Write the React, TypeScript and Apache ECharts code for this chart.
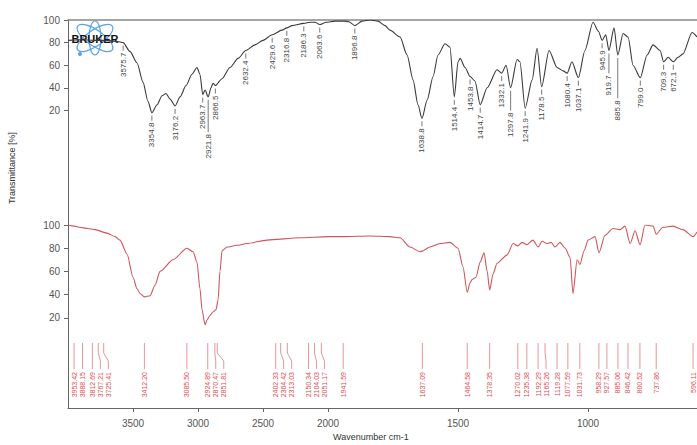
import React, { useEffect, useRef } from 'react';
import * as echarts from 'echarts';

// ---------- data ----------
const xTickWavenumbers = [3500, 3000, 2500, 2000, 1500, 1000];
const yTicks = [20, 40, 60, 80, 100];

const blackWn = [4000, 3900, 3800, 3700, 3620, 3575.7, 3523, 3469, 3423, 3385, 3354.8, 3315, 3277, 3246, 3215, 3176.2, 3138, 3092, 3046, 3008, 2985, 2963.7, 2946, 2921.8, 2900, 2885, 2866.5, 2815, 2754, 2692, 2632.4, 2562, 2500, 2429.6, 2354, 2316.8, 2277, 2186.3, 2138, 2100, 2063.6, 2015, 1973, 1935, 1920, 1896.8, 1869, 1838, 1808, 1781, 1762, 1723, 1696, 1673, 1654, 1638.8, 1619, 1596, 1577, 1550, 1531, 1514.4, 1500, 1492, 1473, 1453.8, 1435, 1414.7, 1388, 1350, 1332.1, 1315, 1297.8, 1273, 1262, 1241.9, 1215, 1196, 1178.5, 1150, 1119, 1096, 1080.4, 1062, 1037.1, 1012, 981, 960, 945.9, 932, 919.7, 900, 885.8, 865, 846, 827, 799, 773, 750, 723, 709.3, 692, 672.1, 654, 635, 600, 581];
const blackT = [82, 82.5, 82, 82, 81, 80, 72, 62, 45, 28, 18, 25, 33, 35, 30, 24, 32, 42, 52, 58, 52, 34, 38, 32, 40, 44, 42, 48, 58, 66, 73, 78, 82, 87, 91, 93, 95, 97, 98, 98, 96, 98, 99, 99, 98.5, 95, 99, 100, 99, 95, 91, 85, 69, 47, 25, 13, 29, 50, 69, 79, 76, 32, 63, 66, 58, 50, 46, 25, 40, 56, 53, 60, 40, 65, 63, 22, 47, 75, 41, 73, 58, 55, 53, 63, 49, 73, 98, 90, 82, 87, 73, 93, 69, 88, 85, 60, 49, 69, 78, 73, 63, 67, 63, 67, 70, 89, 85];

const redWn = [4000, 3950, 3908, 3850, 3792, 3700, 3638, 3600, 3546, 3500, 3469, 3446, 3412.2, 3369, 3331, 3292, 3192, 3085.5, 3038, 3008, 2985, 2969, 2946, 2931, 2908, 2885, 2862, 2846, 2831, 2815, 2777, 2700, 2623, 2469, 2215, 2000, 1941.6, 1838, 1762, 1723, 1685, 1646, 1637, 1608, 1569, 1531, 1500, 1481, 1464.6, 1454, 1446, 1431, 1415, 1400, 1388, 1378.4, 1365, 1350, 1312, 1288, 1270, 1254, 1235, 1212, 1192, 1177, 1158, 1142, 1127, 1108, 1088, 1069, 1058, 1042, 1031, 1015, 1000, 973, 958, 935, 904, 877, 858, 838, 819, 800, 781, 750, 737.9, 712, 673, 635, 596, 581];
const redT = [100, 99, 98, 97, 96, 93, 90, 87, 75, 55, 45, 41, 38, 39, 48, 60, 70, 80, 77, 68, 45, 27, 14, 18, 22, 25, 27, 35, 60, 78, 81, 82.5, 84, 87, 89, 90, 90, 90.5, 90, 89, 81, 77, 77.5, 81, 84, 85, 80, 64, 42, 50, 53, 55, 68, 76, 60, 44, 58, 67, 74, 84, 82, 85, 83, 87, 81, 86, 84, 85, 81, 85, 80, 72, 41, 70, 66, 78, 87, 90, 76, 91, 97, 96, 99, 84, 95, 83, 100, 99, 92, 98, 99, 96, 90, 94];

const blackPeakLabels = ['3575.7', '3354.8', '3176.2', '2963.7', '2921.8', '2866.5', '2632.4', '2429.6', '2316.8', '2186.3', '2063.6', '1896.8', '1638.8', '1514.4', '1453.8', '1414.7', '1332.1', '1297.8', '1241.9', '1178.5', '1080.4', '1037.1', '945.9', '919.7', '885.8', '799.0', '709.3', '672.1'];
const redPeakLabels = ['3953.42', '3888.15', '3812.69', '3767.21', '3725.41', '3412.20', '3085.50', '2924.89', '2870.47', '2851.81', '2402.33', '2364.42', '2313.03', '2150.34', '2104.03', '2051.17', '1941.59', '1637.09', '1464.58', '1378.35', '1270.02', '1235.38', '1192.29', '1165.26', '1119.28', '1077.59', '1031.73', '958.29', '927.57', '885.06', '846.42', '800.52', '737.86', '596.11'];

const X_MIN_WN = 581;
const X_MAX_WN = 4000;

// ---------- helpers ----------
const BREAK = 2000;
const toU = (w: number) => (w <= BREAK ? w : BREAK + (w - BREAK) / 2);
const fromU = (u: number) => (u <= BREAK ? u : BREAK + (u - BREAK) * 2);

function interp(wn: number, ws: number[], ts: number[]) {
  for (let i = 0; i < ws.length - 1; i++) {
    const a = ws[i], b = ws[i + 1];
    if (wn <= a && wn >= b) {
      const t = a === b ? 0 : (a - wn) / (a - b);
      return ts[i] + (ts[i + 1] - ts[i]) * t;
    }
  }
  return ts[ts.length - 1];
}

const FONT = '"Liberation Sans", Arial, sans-serif';
const textLen = (s: string, fs: number) => {
  let n = 0;
  for (const c of s) n += c === '.' ? 0.278 : 0.556;
  return n * fs;
};

export default function App() {
  const ref = useRef<HTMLDivElement>(null);

  useEffect(() => {
    if (!ref.current) return;
    const chart = echarts.init(ref.current, undefined, { renderer: 'svg' });

    const blackData = blackWn.map((w, i) => [toU(w), blackT[i]]);
    const redData = redWn.map((w, i) => [toU(w), redT[i]]);
    const blackLabelData = blackPeakLabels.map((s) => {
      const w = parseFloat(s);
      return [toU(w), interp(w, blackWn, blackT)];
    });
    const redLabelData = redPeakLabels.map((s) => [toU(parseFloat(s)), 0]);

    const BFS = 8;
    const RFS = 7;

    const blackRender = (params: any, api: any) => {
      const placed: { x: number; y: number; ts: number; len: number }[] = [];
      for (let i = 0; i < blackLabelData.length; i++) {
        const [x, y] = api.coord(blackLabelData[i]);
        const len = textLen(blackPeakLabels[i], BFS);
        let ts = y + 10;
        let moved = true;
        let guard = 0;
        while (moved && guard < 20) {
          moved = false;
          guard++;
          for (const p of placed) {
            if (Math.abs(p.x - x) < BFS + 1 && ts < p.ts + p.len + 3 && ts + len > p.ts - 3) {
              ts = p.ts + p.len + 5;
              moved = true;
            }
          }
        }
        placed.push({ x, y, ts, len });
      }
      const p = placed[params.dataIndex];
      const lineEnd = p.ts - p.y > 12 ? p.ts - 2 : p.y + 8;
      return {
        type: 'group',
        children: [
          {
            type: 'line',
            shape: { x1: p.x, y1: p.y + 3, x2: p.x, y2: lineEnd },
            style: { stroke: '#555', lineWidth: 0.8 },
          },
          {
            type: 'text',
            x: p.x,
            y: p.ts,
            rotation: Math.PI / 2,
            style: {
              text: blackPeakLabels[params.dataIndex],
              fill: '#444',
              font: `${BFS}px ${FONT}`,
              align: 'right',
              verticalAlign: 'middle',
            },
          },
        ],
      };
    };

    const redRender = (params: any, api: any) => {
      const xs: number[] = [];
      const lx: number[] = [];
      let top = 0;
      for (let i = 0; i < redLabelData.length; i++) {
        const c = api.coord(redLabelData[i]);
        xs.push(c[0]);
        top = c[1] + 2;
        lx.push(i === 0 ? c[0] : Math.max(c[0], lx[i - 1] + 8));
      }
      const i = params.dataIndex;
      const x = xs[i];
      const l = lx[i];
      return {
        type: 'group',
        children: [
          {
            type: 'polyline',
            shape: { points: [[x, top], [x, top + 10], [l, top + 18], [l, top + 26]] },
            style: { stroke: '#e27a7e', lineWidth: 0.8, fill: null },
          },
          {
            type: 'text',
            x: l,
            y: top + 29,
            rotation: Math.PI / 2,
            style: {
              text: redPeakLabels[i],
              fill: '#de4b52',
              font: `${RFS}px ${FONT}`,
              align: 'right',
              verticalAlign: 'middle',
            },
          },
        ],
      };
    };

    const hiddenX = (gridIndex: number) => ({
      gridIndex,
      type: 'value',
      inverse: true,
      min: toU(X_MIN_WN),
      max: toU(X_MAX_WN),
      show: false,
    });

    const valueY = (gridIndex: number) => ({
      gridIndex,
      type: 'value',
      min: 0,
      max: 100,
      interval: 20,
      axisLine: { show: false },
      axisTick: { show: true, inside: false, length: 4, customValues: yTicks, lineStyle: { color: '#666' } },
      axisLabel: {
        customValues: yTicks,
        formatter: (v: number) => (v === 0 ? '' : String(v)),
        fontSize: 10,
        color: '#555',
        margin: 8,
        fontFamily: FONT,
      },
      splitLine: { show: false },
    });

    const option: any = {
      animation: false,
      backgroundColor: '#ffffff',
      grid: [
        { left: 68, right: 0, top: 20, bottom: 37 },
        { left: 68, right: 0, top: 20, height: 113 },
        { left: 68, right: 0, top: 225, height: 116 },
      ],
      xAxis: [
        {
          gridIndex: 0,
          type: 'value',
          inverse: true,
          min: toU(X_MIN_WN),
          max: toU(X_MAX_WN),
          axisLine: { show: true, lineStyle: { color: '#666', width: 1 } },
          axisTick: { show: true, length: 4, customValues: xTickWavenumbers.map(toU), lineStyle: { color: '#666' } },
          axisLabel: {
            customValues: xTickWavenumbers.map(toU),
            formatter: (u: number) => String(Math.round(fromU(u))),
            fontSize: 10,
            color: '#555',
            margin: 10,
            fontFamily: FONT,
          },
          splitLine: { show: false },
        },
        {
          gridIndex: 0,
          type: 'value',
          position: 'top',
          inverse: true,
          min: toU(X_MIN_WN),
          max: toU(X_MAX_WN),
          axisLine: { show: true, lineStyle: { color: '#888', width: 1.5 } },
          axisTick: { show: false },
          axisLabel: { show: false },
          splitLine: { show: false },
        },
        hiddenX(1),
        hiddenX(2),
      ],
      yAxis: [
        {
          gridIndex: 0,
          type: 'value',
          min: 0,
          max: 1,
          axisLine: { show: true, lineStyle: { color: '#666', width: 1 } },
          axisTick: { show: false },
          axisLabel: { show: false },
          splitLine: { show: false },
        },
        valueY(1),
        valueY(2),
      ],
      graphic: [
        {
          type: 'text',
          left: 333,
          top: 432,
          style: { text: 'Wavenumber cm-1', fill: '#333', font: `9px ${FONT}` },
        },
        {
          type: 'text',
          x: 12,
          y: 168,
          rotation: Math.PI / 2,
          style: {
            text: 'Transmittance [%]',
            fill: '#333',
            font: `9px ${FONT}`,
            align: 'center',
            verticalAlign: 'middle',
          },
        },
        {
          type: 'group',
          children: [
            { type: 'ellipse', x: 95, y: 38, rotation: 0.6, shape: { cx: 0, cy: 0, rx: 21, ry: 8 }, style: { fill: 'none', stroke: '#5aa2e6', lineWidth: 1.2 } },
            { type: 'ellipse', x: 95, y: 38, rotation: -0.6, shape: { cx: 0, cy: 0, rx: 21, ry: 8 }, style: { fill: 'none', stroke: '#5aa2e6', lineWidth: 1.2 } },
            { type: 'ellipse', x: 95, y: 38, rotation: 1.57, shape: { cx: 0, cy: 0, rx: 17, ry: 6 }, style: { fill: 'none', stroke: '#5aa2e6', lineWidth: 1.2 } },
            { type: 'circle', shape: { cx: 80, cy: 54, r: 2 }, style: { fill: '#5aa2e6' } },
            {
              type: 'text',
              x: 95,
              y: 39,
              style: {
                text: 'BRUKER',
                fill: '#111',
                font: `bold 11px ${FONT}`,
                align: 'center',
                verticalAlign: 'middle',
              },
            },
          ],
        },
      ],
      series: [
        {
          type: 'line',
          xAxisIndex: 2,
          yAxisIndex: 1,
          data: blackData,
          showSymbol: false,
          symbol: 'none',
          smooth: 0.25,
          smoothMonotone: 'x',
          lineStyle: { color: '#3a3a3a', width: 1.1 },
          silent: true,
          z: 3,
        },
        {
          type: 'line',
          xAxisIndex: 3,
          yAxisIndex: 2,
          data: redData,
          showSymbol: false,
          symbol: 'none',
          smooth: 0.25,
          smoothMonotone: 'x',
          lineStyle: { color: '#d0555b', width: 1.1 },
          silent: true,
          z: 3,
        },
        {
          type: 'custom',
          xAxisIndex: 2,
          yAxisIndex: 1,
          data: blackLabelData,
          renderItem: blackRender,
          clip: false,
          silent: true,
          z: 4,
        },
        {
          type: 'custom',
          xAxisIndex: 3,
          yAxisIndex: 2,
          data: redLabelData,
          renderItem: redRender,
          clip: false,
          silent: true,
          z: 4,
        },
      ],
    };

    chart.setOption(option);
    return () => chart.dispose();
  }, []);

  return (
    <div
      ref={ref}
      style={{ position: 'absolute', left: 0, top: 0, width: 697, height: 445, background: '#fff' }}
    />
  );
}
